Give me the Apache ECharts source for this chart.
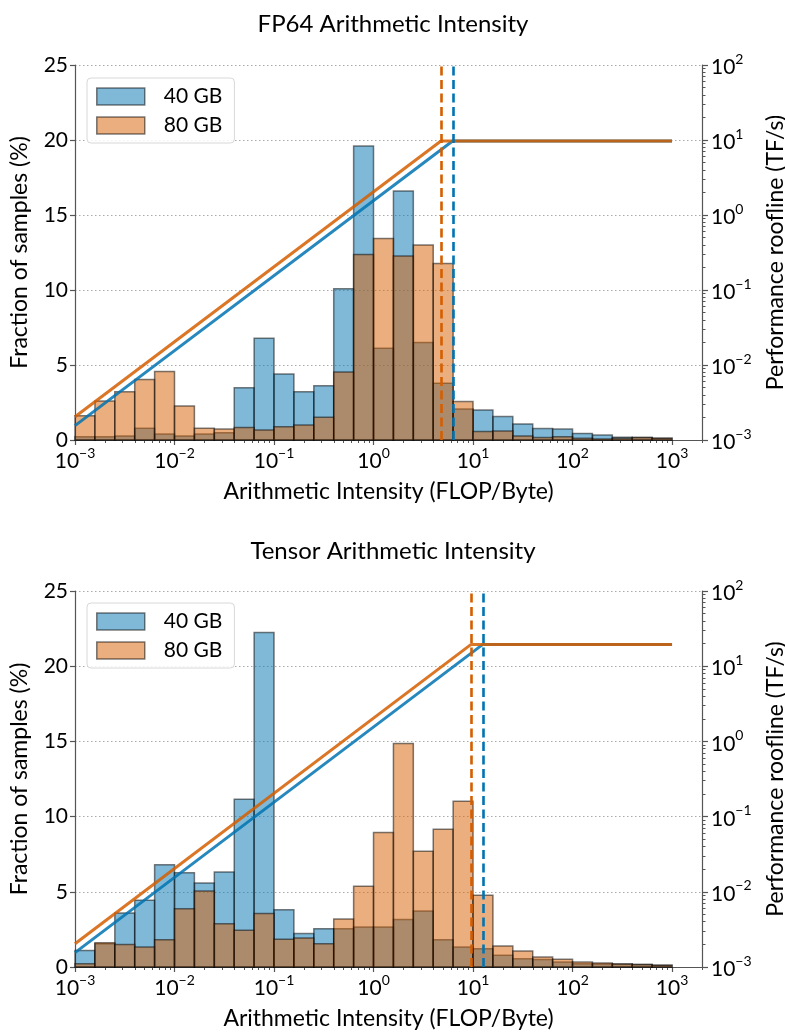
<!DOCTYPE html>
<html>
<head>
<meta charset="utf-8">
<script src="https://cdn.jsdelivr.net/npm/echarts@6/dist/echarts.min.js"></script>
<style>
html,body{margin:0;padding:0;background:#fff;}
#chart{width:785px;height:1034px;}
</style>
</head>
<body>
<div id="chart"></div>
<script>
// Histogram bin edges, in log10(FLOP/Byte)
const binEdges = [-3,-2.8,-2.6,-2.4,-2.2,-2,-1.8,-1.6,-1.4,-1.2,-1,-0.8,-0.6,-0.4,-0.2,0,0.2,0.4,0.6,0.8,1,1.2,1.4,1.6,1.8,2,2.2,2.4,2.6,2.8,3];

// FP64 arithmetic intensity (% of samples)
const fp64_40GB = [0.22,0.22,0.27,0.78,0.40,0.27,0.40,0.49,3.49,6.78,4.40,3.22,3.62,10.09,19.6,6.11,16.6,6.5,3.78,2.07,2.0,1.56,1.07,0.76,0.73,0.44,0.33,0.18,0.16,0.11];
const fp64_80GB = [1.62,2.6,3.22,4.04,4.56,2.27,0.78,0.73,0.84,0.67,0.89,1.0,1.51,4.53,12.36,13.44,12.27,13.0,11.76,2.56,0.56,0.6,0.27,0.16,0.22,0.11,0.07,0.11,0.16,0.11];

// Tensor arithmetic intensity (% of samples)
const tensor_40GB = [1.1,1.55,3.59,4.43,6.8,6.27,5.59,6.32,11.15,22.24,3.81,2.22,2.55,2.55,2.66,2.66,3.15,3.72,1.82,1.33,1.22,0.78,0.55,0.5,0.33,0.22,0.2,0.2,0.16,0.11];
const tensor_80GB = [0.22,1.62,1.5,1.33,1.82,3.88,5.06,2.88,2.44,3.55,1.84,1.93,1.55,3.19,5.37,8.94,14.86,7.69,9.16,11.02,4.77,1.4,1.06,0.66,0.51,0.33,0.27,0.2,0.16,0.11];

// Roofline parameters
const bandwidthTBs = {'40 GB': 1.555, '80 GB': 2.039};
const peakFP64 = 9.7;     // TF/s
const peakTensor = 19.5;  // TF/s
const rooflineRange = [1e-3, 1e3]; // FLOP/Byte

// Axis ticks
const xMajorTicks = [-3,-2,-1,0,1,2,3];
const leftTicks = [0,5,10,15,20,25];
const rightMajorTicks = [-3,-2,-1,0,1,2];

const xMax = Math.log10(2000);
const BLUE = '#0173B2', ORANGE = '#D55E00';
const FONT = 'Lato, "DejaVu Sans", sans-serif';
const AXC = '#555';
const TICK_FS = 21, NAME_FS = 23;

function minorTicks(lo, hi) {
  const out = [];
  for (let n = Math.floor(lo); n <= Math.ceil(hi); n++) {
    for (let k = 2; k <= 9; k++) {
      const v = n + Math.log10(k);
      if (v >= lo - 1e-9 && v <= hi + 1e-9) out.push(v);
    }
  }
  return out;
}

function powLabel(v) {
  const n = Math.round(v);
  return '{b|10}{s|' + (n < 0 ? '\u2212' + (-n) : n) + '}';
}
const powRich = {
  b: {fontSize: TICK_FS, fontFamily: FONT, color: '#000', lineHeight: 26, verticalAlign: 'bottom'},
  s: {fontSize: 14, fontFamily: FONT, color: '#000', lineHeight: 15, verticalAlign: 'top'}
};

const grids = [
  {left: 75, top: 65, width: 627, height: 375, outerBoundsMode: 'none', containLabel: false},
  {left: 75, top: 591, width: 627, height: 376, outerBoundsMode: 'none', containLabel: false}
];

const xAxes = [], yAxes = [];
grids.forEach((g, gi) => {
  xAxes.push({
    gridIndex: gi, type: 'value', min: -3, max: xMax, position: 'bottom',
    name: 'Arithmetic Intensity (FLOP/Byte)', nameLocation: 'middle', nameGap: 40,
    nameTextStyle: {fontSize: NAME_FS, fontFamily: FONT, color: '#000'},
    axisLine: {show: true, onZero: false, lineStyle: {color: AXC, width: 1.2}},
    axisTick: {show: true, length: 5, customValues: xMajorTicks, lineStyle: {color: AXC, width: 1.2}},
    axisLabel: {customValues: xMajorTicks, formatter: powLabel, rich: powRich, margin: 6},
    splitLine: {show: false}
  });
  xAxes.push({
    gridIndex: gi, type: 'value', min: -3, max: xMax, position: 'bottom',
    axisLine: {show: false, onZero: false},
    axisTick: {show: true, length: 3, customValues: minorTicks(-3, xMax), lineStyle: {color: AXC, width: 1}},
    axisLabel: {show: false},
    splitLine: {show: false}
  });
  yAxes.push({
    gridIndex: gi, type: 'value', min: 0, max: 25, interval: 5, position: 'left',
    name: 'Fraction of samples (%)', nameLocation: 'middle', nameGap: 44,
    nameTextStyle: {fontSize: NAME_FS, fontFamily: FONT, color: '#000'},
    axisLine: {show: true, onZero: false, lineStyle: {color: AXC, width: 1.2}},
    axisTick: {show: true, length: 5, lineStyle: {color: AXC, width: 1.2}},
    axisLabel: {fontSize: TICK_FS, fontFamily: FONT, color: '#000', margin: 7},
    splitLine: {show: true, lineStyle: {color: '#aaa', width: 1, type: [1.5, 2.5]}}
  });
  yAxes.push({
    gridIndex: gi, type: 'value', min: -3, max: 2, interval: 1, position: 'right',
    name: 'Performance roofline (TF/s)', nameLocation: 'middle', nameGap: 62, nameRotate: 90,
    nameTextStyle: {fontSize: NAME_FS, fontFamily: FONT, color: '#000'},
    axisLine: {show: true, onZero: false, lineStyle: {color: AXC, width: 1.2}},
    axisTick: {show: true, length: 6, lineStyle: {color: AXC, width: 1.2}},
    axisLabel: {formatter: powLabel, rich: powRich, margin: 9},
    splitLine: {show: false}
  });
  yAxes.push({
    gridIndex: gi, type: 'value', min: -3, max: 2, position: 'right',
    axisLine: {show: false, onZero: false},
    axisTick: {show: true, length: 3.5, customValues: minorTicks(-3, 2), lineStyle: {color: AXC, width: 1}},
    axisLabel: {show: false},
    splitLine: {show: false}
  });
});

function histSeries(name, values, color, gi) {
  return {
    type: 'custom', name: name,
    xAxisIndex: gi * 2, yAxisIndex: gi * 3,
    data: values.map((v, i) => [binEdges[i], binEdges[i + 1], v]),
    encode: {x: [0, 1], y: 2},
    itemStyle: {color: color, borderColor: 'rgba(0,0,0,0.5)', borderWidth: 1.5},
    renderItem: function (params, api) {
      const p0 = api.coord([api.value(0), 0]);
      const p1 = api.coord([api.value(1), api.value(2)]);
      return {
        type: 'rect',
        shape: {x: p0[0], y: p1[1], width: p1[0] - p0[0], height: p0[1] - p1[1]},
        style: {fill: color, stroke: 'rgba(0,0,0,0.5)', lineWidth: 1.5}
      };
    },
    z: 2
  };
}

function rooflineSeries(label, peak, color, gi) {
  const bw = bandwidthTBs[label];
  const ridge = peak / bw;
  const pts = [
    [Math.log10(rooflineRange[0]), Math.log10(bw * rooflineRange[0])],
    [Math.log10(ridge), Math.log10(peak)],
    [Math.log10(rooflineRange[1]), Math.log10(peak)]
  ];
  return {
    type: 'line', name: 'roofline ' + label,
    xAxisIndex: gi * 2, yAxisIndex: gi * 3 + 1,
    data: pts, showSymbol: false, symbol: 'none', silent: true,
    lineStyle: {color: color, width: 3, opacity: 0.85},
    markLine: {
      silent: true, symbol: ['none', 'none'], label: {show: false},
      lineStyle: {color: color, width: 2.6, type: [9, 4.5], opacity: 1},
      data: [{xAxis: Math.log10(ridge)}]
    },
    z: 3
  };
}

const series = [
  histSeries('40 GB', fp64_40GB, 'rgba(1,115,178,0.5)', 0),
  histSeries('80 GB', fp64_80GB, 'rgba(213,94,0,0.5)', 0),
  rooflineSeries('40 GB', peakFP64, BLUE, 0),
  rooflineSeries('80 GB', peakFP64, ORANGE, 0),
  histSeries('40 GB', tensor_40GB, 'rgba(1,115,178,0.5)', 1),
  histSeries('80 GB', tensor_80GB, 'rgba(213,94,0,0.5)', 1),
  rooflineSeries('40 GB', peakTensor, BLUE, 1),
  rooflineSeries('80 GB', peakTensor, ORANGE, 1)
];

function legend(top) {
  return {
    left: 87, top: top, orient: 'vertical',
    itemWidth: 48, itemHeight: 17, itemGap: 8,
    padding: [8, 12, 7, 9],
    backgroundColor: 'rgba(255,255,255,0.85)', borderColor: '#d8d8d8', borderWidth: 1, borderRadius: 4,
    selectedMode: false,
    textStyle: {fontSize: 21, fontFamily: FONT, color: '#000', padding: [0, 0, 0, 14]},
    data: [
      {name: '40 GB', icon: 'rect', itemStyle: {color: 'rgba(1,115,178,0.5)', borderColor: 'rgba(0,0,0,0.5)', borderWidth: 1.5}},
      {name: '80 GB', icon: 'rect', itemStyle: {color: 'rgba(213,94,0,0.5)', borderColor: 'rgba(0,0,0,0.5)', borderWidth: 1.5}}
    ]
  };
}

const chart = echarts.init(document.getElementById('chart'), null, {renderer: 'canvas'});
chart.setOption({
  animation: false,
  backgroundColor: '#fff',
  title: [
    {text: 'FP64 Arithmetic Intensity', left: 388, top: 7, textAlign: 'center',
     textStyle: {fontSize: 24, fontWeight: 'normal', fontFamily: FONT, color: '#000'}},
    {text: 'Tensor Arithmetic Intensity', left: 388, top: 534, textAlign: 'center',
     textStyle: {fontSize: 24, fontWeight: 'normal', fontFamily: FONT, color: '#000'}}
  ],
  legend: [legend(78), legend(603)],
  grid: grids,
  xAxis: xAxes,
  yAxis: yAxes,
  series: series
});
</script>
</body>
</html>
